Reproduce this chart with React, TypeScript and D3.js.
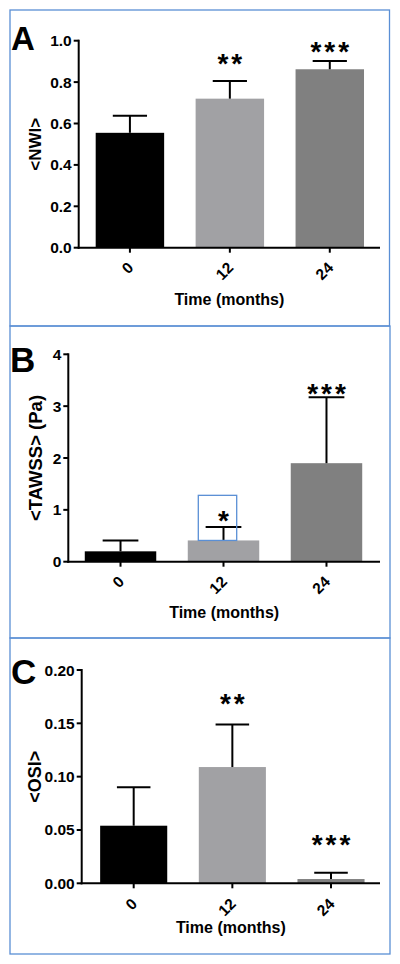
import React from "react";
import * as d3 from "d3";

// ---- data ----
const categories = ["0", "12", "24"];

const nwiMean = [0.555, 0.72, 0.862];
const nwiSD = [0.083, 0.085, 0.04];
const nwiStars = ["", "**", "***"];
const nwiStarLevel = [0, 0.92, 0.98];
const nwiTicks = [0, 0.2, 0.4, 0.6, 0.8, 1.0];

const tawssMean = [0.2, 0.41, 1.9];
const tawssSD = [0.21, 0.26, 1.27];
const tawssStars = ["", "*", "***"];
const tawssStarLevel = [0, 0.92, 3.37];
const tawssTicks = [0, 1, 2, 3, 4];

const osiMean = [0.054, 0.109, 0.004];
const osiSD = [0.036, 0.04, 0.006];
const osiStars = ["", "**", "***"];
const osiStarLevel = [0, 0.175, 0.0425];
const osiTicks = [0, 0.05, 0.1, 0.15, 0.2];

const barColors = ["#000000", "#a1a1a4", "#808080"];
const FONT = "'Liberation Sans', Arial, sans-serif";
const BORDER = "#5a8fd5";

type PanelProps = {
  letter: string;
  letterSize: number;
  letterX: number;
  letterY: number;
  box: [number, number, number, number];
  means: number[];
  sds: number[];
  stars: string[];
  starLevel: number[];
  ticks: number[];
  fmt: string;
  domain: [number, number];
  yRange: [number, number];
  xRange: [number, number];
  axisEnd: number;
  padInner: number;
  padOuter: number;
  yLabel: string;
  yLabelSize: number;
  xLabelDy: number;
  tickDy: number;
  highlight?: { cat: string; dx0: number; dx1: number; top: number };
};

function Panel(p: PanelProps) {
  const y = d3.scaleLinear().domain(p.domain).range(p.yRange);
  const x = d3
    .scaleBand<string>()
    .domain(categories)
    .range(p.xRange)
    .paddingInner(p.padInner)
    .paddingOuter(p.padOuter);
  const fmt = d3.format(p.fmt);
  const x0 = p.xRange[0];
  const y0 = y(0);
  const bw = x.bandwidth();
  const [bx, by, bx2, by2] = p.box;
  return (
    <g>
      <rect x={bx} y={by} width={bx2 - bx} height={by2 - by} fill="none" stroke={BORDER} strokeWidth={1.3} />
      <text x={p.letterX} y={p.letterY} fontFamily={FONT} fontWeight="bold" fontSize={p.letterSize} fill="#000">
        {p.letter}
      </text>
      {/* bars */}
      {categories.map((c, i) => {
        const cx = (x(c) as number) + bw / 2;
        const top = y(p.means[i]);
        const et = y(p.means[i] + p.sds[i]);
        return (
          <g key={c}>
            <rect x={x(c)} y={top} width={bw} height={y0 - top} fill={barColors[i]} />
            <line x1={cx} x2={cx} y1={top} y2={et} stroke="#000" strokeWidth={2} />
            <line x1={cx - bw / 4} x2={cx + bw / 4} y1={et} y2={et} stroke="#000" strokeWidth={2} />
            {p.stars[i] && (
              <text
                x={cx + 1.5}
                y={y(p.starLevel[i]) + 16}
                textAnchor="middle"
                fontFamily={FONT}
                fontWeight="bold"
                fontSize={28}
                letterSpacing={3}
                fill="#000"
              >
                {p.stars[i]}
              </text>
            )}
          </g>
        );
      })}
      {p.highlight && (
        <rect
          x={(x(p.highlight.cat) as number) + bw / 2 + p.highlight.dx0}
          y={y(p.highlight.top)}
          width={p.highlight.dx1 - p.highlight.dx0}
          height={y(p.means[categories.indexOf(p.highlight.cat)]) - y(p.highlight.top)}
          fill="none"
          stroke={BORDER}
          strokeWidth={1.3}
        />
      )}
      {/* y axis */}
      <line x1={x0} x2={x0} y1={y(p.domain[1]) - 1} y2={y0 + 1} stroke="#000" strokeWidth={2} />
      {p.ticks.map((t) => (
        <g key={t}>
          <line x1={x0 - 5} x2={x0} y1={y(t)} y2={y(t)} stroke="#000" strokeWidth={2} />
          <text
            x={x0 - 7}
            y={y(t) + 5.5}
            textAnchor="end"
            fontFamily={FONT}
            fontWeight="bold"
            fontSize={15.5}
            fill="#000"
          >
            {fmt(t)}
          </text>
        </g>
      ))}
      {/* x axis */}
      <line x1={x0 - 1} x2={p.axisEnd} y1={y0} y2={y0} stroke="#000" strokeWidth={2} />
      {categories.map((c) => {
        const cx = (x(c) as number) + bw / 2;
        return (
          <g key={c}>
            <line x1={cx} x2={cx} y1={y0} y2={y0 + 5} stroke="#000" strokeWidth={2} />
            <text
              transform={`translate(${cx + 4.5},${y0 + p.tickDy}) rotate(-45)`}
              textAnchor="end"
              fontFamily={FONT}
              fontWeight="bold"
              fontSize={15.5}
              fill="#000"
            >
              {c}
            </text>
          </g>
        );
      })}
      <text
        x={(x0 + p.axisEnd) / 2}
        y={y0 + p.xLabelDy}
        textAnchor="middle"
        fontFamily={FONT}
        fontWeight="bold"
        fontSize={16}
        fill="#000"
      >
        Time (months)
      </text>
      <text
        transform={`translate(${35 + p.yLabelSize * 0.36},${(p.yRange[0] + p.yRange[1]) / 2}) rotate(-90)`}
        textAnchor="middle"
        fontFamily={FONT}
        fontWeight="bold"
        fontSize={p.yLabelSize}
        fill="#000"
      >
        {p.yLabel}
      </text>
    </g>
  );
}

export default function App() {
  return (
    <svg
      width={400}
      height={964}
      style={{ position: "absolute", left: 0, top: 0, background: "#fff" }}
    >
      <rect x={0} y={0} width={400} height={964} fill="#fff" />
      <Panel
        letter="A"
        letterSize={33}
        letterX={11}
        letterY={50}
        box={[10, 10, 389.5, 326]}
        means={nwiMean}
        sds={nwiSD}
        stars={nwiStars}
        starLevel={nwiStarLevel}
        ticks={nwiTicks}
        fmt=".1f"
        domain={[0, 1]}
        yRange={[247.7, 40.7]}
        xRange={[78.7, 381]}
        axisEnd={380}
        padInner={0.315}
        padOuter={0.17}
        yLabel="<NWI>"
        yLabelSize={17}
        xLabelDy={57}
        tickDy={21}
      />
      <Panel
        letter="B"
        letterSize={35}
        letterX={10}
        letterY={372}
        box={[10, 326, 390, 638]}
        means={tawssMean}
        sds={tawssSD}
        stars={tawssStars}
        starLevel={tawssStarLevel}
        ticks={tawssTicks}
        fmt="d"
        domain={[0, 4]}
        yRange={[561.7, 354.3]}
        xRange={[68.3, 378.7]}
        axisEnd={380}
        padInner={0.306}
        padOuter={0.16}
        yLabel="<TAWSS> (Pa)"
        yLabelSize={18.5}
        xLabelDy={56}
        tickDy={21}
        highlight={{ cat: "12", dx0: -25.2, dx1: 13.2, top: 1.28 }}
      />
      <Panel
        letter="C"
        letterSize={35}
        letterX={11}
        letterY={684}
        box={[10, 638, 390, 954]}
        means={osiMean}
        sds={osiSD}
        stars={osiStars}
        starLevel={osiStarLevel}
        ticks={osiTicks}
        fmt=".2f"
        domain={[0, 0.2]}
        yRange={[883.3, 670]}
        xRange={[81.7, 383]}
        axisEnd={380}
        padInner={0.32}
        padOuter={0.187}
        yLabel="<OSI>"
        yLabelSize={18}
        xLabelDy={50}
        tickDy={21.5}
      />
    </svg>
  );
}
